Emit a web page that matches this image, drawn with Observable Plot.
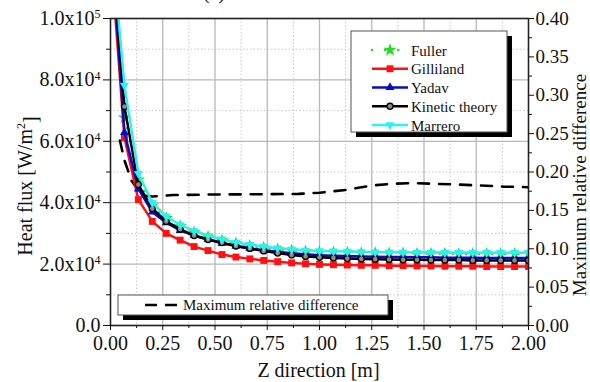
<!DOCTYPE html>
<html>
<head>
<meta charset="utf-8">
<script src="https://cdn.jsdelivr.net/npm/d3@7"></script>
<script src="https://cdn.jsdelivr.net/npm/@observablehq/plot@0.6"></script>
<style>
  html, body { margin: 0; padding: 0; background: #fff; }
  #chart svg { display: block; }
  #chart svg text, #chart svg tspan { font-family: "Liberation Serif", "DejaVu Serif", serif; }
</style>
</head>
<body>
<div id="chart"></div>
<script>
// Axial positions along the channel [m]
const zPos = [0, 0.0667, 0.1333, 0.2, 0.2667, 0.3333, 0.4, 0.4667, 0.5333, 0.6, 0.6667,
  0.7333, 0.8, 0.8667, 0.9333, 1.0, 1.0667, 1.1333, 1.2, 1.2667, 1.3333, 1.4, 1.4667,
  1.5333, 1.6, 1.6667, 1.7333, 1.8, 1.8667, 1.9333, 2.0];

// Heat flux [W/m2] for each diffusion-coefficient model
const fuller = [128000, 67700, 47500, 39000, 35000, 32300, 30300, 28900, 27700, 26700, 25900,
  25300, 24800, 24400, 24100, 23900, 23800, 23700, 23600, 23600, 23500, 23500, 23400,
  23400, 23400, 23300, 23300, 23300, 23300, 23300, 23300];
const gilliland = [121800, 61200, 41000, 33900, 30000, 27800, 25700, 24400, 23100, 22300, 21700,
  21200, 20800, 20400, 20100, 19900, 19800, 19700, 19600, 19600, 19500, 19500, 19400,
  19400, 19300, 19300, 19300, 19200, 19200, 19200, 19200];
const yadav = [128000, 62900, 44500, 37000, 33500, 31000, 29300, 28000, 26800, 25900, 25100,
  24500, 24000, 23500, 23200, 22900, 22700, 22600, 22500, 22400, 22300, 22300, 22200,
  22200, 22100, 22100, 22100, 22000, 22000, 22000, 22000];
const kinetic = [128700, 71300, 45900, 38100, 33900, 31400, 29300, 28000, 27000, 25900, 25100,
  24300, 23600, 23000, 22500, 22200, 22000, 21800, 21700, 21600, 21500, 21400, 21400,
  21300, 21300, 21300, 21200, 21200, 21200, 21200, 21200];
const marrero = [129000, 78200, 49500, 40000, 35500, 32800, 30800, 29300, 28100, 27100, 26300,
  25700, 25200, 24800, 24500, 24300, 24200, 24100, 24000, 23900, 23900, 23800, 23800,
  23800, 23700, 23700, 23700, 23700, 23700, 23700, 23700];

// Maximum relative difference between the models (right axis)
const diffZ = [0.045, 0.067, 0.1, 0.133, 0.167, 0.2, 0.3, 0.5, 0.7, 0.9, 1.0, 1.13, 1.25,
  1.35, 1.45, 1.55, 1.66, 1.77, 1.88, 2.0];
const diffVal = [0.241, 0.215, 0.189, 0.176, 0.169, 0.168, 0.170, 0.1707, 0.171, 0.1715, 0.173,
  0.1768, 0.1824, 0.1846, 0.1855, 0.1846, 0.1837, 0.1824, 0.181, 0.1802];

const seriesNames = ["Fuller", "Gilliland", "Yadav", "Kinetic theory", "Marrero"];
const seriesValues = [fuller, gilliland, yadav, kinetic, marrero];
const diffName = "Maximum relative difference";

// Axis ticks and labels
const xTicks = [0, 0.25, 0.5, 0.75, 1.0, 1.25, 1.5, 1.75, 2.0];
const xTickLabels = ["0.00", "0.25", "0.50", "0.75", "1.00", "1.25", "1.50", "1.75", "2.00"];
const xMinor = [0.125, 0.375, 0.625, 0.875, 1.125, 1.375, 1.625, 1.875];
const yTicks = [0, 20000, 40000, 60000, 80000, 100000];
const yTickMantissa = ["0.0", "2.0x10", "4.0x10", "6.0x10", "8.0x10", "1.0x10"];
const yTickExponent = ["", "4", "4", "4", "4", "5"];
const yMinor = [10000, 30000, 50000, 70000, 90000];
const rTicks = [0, 0.05, 0.10, 0.15, 0.20, 0.25, 0.30, 0.35, 0.40];
const rTickLabels = ["0.00", "0.05", "0.10", "0.15", "0.20", "0.25", "0.30", "0.35", "0.40"];
const rMinor = [0.025, 0.075, 0.125, 0.175, 0.225, 0.275, 0.325, 0.375];

// The right axis shares the frame with the left one: 0.40 sits at 1.0x10^5
const rFactor = 100000 / 0.4;

// Downward-pointing triangle symbol
const triangleDown = {
  draw(context, size) {
    const y = -Math.sqrt(size / (Math.sqrt(3) * 3));
    context.moveTo(0, -y * 2);
    context.lineTo(-Math.sqrt(3) * y, y);
    context.lineTo(Math.sqrt(3) * y, y);
    context.closePath();
  }
};

const styles = {
  "Fuller":         {color: "#22dd22", symbol: d3.symbolStar,     r: 4.2, dash: "0.1,13", cap: "round", dotStroke: "none"},
  "Gilliland":      {color: "#ff1010", symbol: d3.symbolSquare,   r: 3.9, dash: null,     cap: "butt",  dotStroke: "none"},
  "Yadav":          {color: "#0a0acc", symbol: d3.symbolTriangle, r: 3.3, dash: null,     cap: "butt",  dotStroke: "none"},
  "Kinetic theory": {color: "#000000", symbol: d3.symbolCircle,   r: 3.0, dash: null,     cap: "butt",  dotStroke: "#000", dotFill: "#8a8a8a"},
  "Marrero":        {color: "#2ff0f0", symbol: triangleDown,      r: 3.4, dash: null,     cap: "butt",  dotStroke: "none"}
};

const table = seriesNames.flatMap((name, s) =>
  zPos.map((z, i) => ({series: name, z, v: seriesValues[s][i]})));
const diffTable = diffZ.map((z, i) => ({z, v: diffVal[i] * rFactor}));

const seriesMarks = seriesNames.flatMap(name => {
  const st = styles[name];
  const data = table.filter(d => d.series === name);
  return [
    Plot.line(data, {x: "z", y: "v", stroke: st.color, strokeWidth: 2.5,
      strokeDasharray: st.dash, strokeLinecap: st.cap, clip: true}),
    Plot.dot(data, {x: "z", y: "v", symbol: st.symbol, r: st.r,
      fill: st.dotFill || st.color, stroke: st.dotStroke, strokeWidth: 1.3, clip: true})
  ];
});

const serif = "Liberation Serif, DejaVu Serif, serif";

const chart = Plot.plot({
  width: 590,
  height: 382,
  marginLeft: 110,
  marginRight: 62,
  marginTop: 18,
  marginBottom: 57,
  style: {fontFamily: serif, fontSize: "20px", color: "#111", background: "#fff"},
  x: {domain: [0, 2]},
  y: {domain: [0, 100000]},
  marks: [
    Plot.gridX(xMinor, {stroke: "#c8c8c8", strokeOpacity: 1, strokeDasharray: "1.5,2"}),
    Plot.gridY(yMinor, {stroke: "#c8c8c8", strokeOpacity: 1, strokeDasharray: "1.5,2"}),
    Plot.gridX(xTicks, {stroke: "#b8b8b8", strokeOpacity: 1, strokeWidth: 1.3}),
    Plot.gridY(yTicks, {stroke: "#b8b8b8", strokeOpacity: 1, strokeWidth: 1.3}),
    Plot.line(diffTable, {x: "z", y: "v", stroke: "#000", strokeWidth: 2.6,
      strokeDasharray: "11,10", clip: true}),
    ...seriesMarks,
    Plot.frame({stroke: "#222", strokeWidth: 1.5}),
    Plot.axisX(xTicks, {anchor: "bottom", label: null, tickSize: 5, tickPadding: 5,
      tickFormat: (d, i) => xTickLabels[i], fontSize: 20}),
    Plot.axisX(xMinor, {anchor: "bottom", label: null, tickSize: 3, tickFormat: () => ""}),
    Plot.axisY(yTicks, {anchor: "left", label: null, tickSize: 7, tickPadding: 3,
      tickFormat: (d, i) => yTickMantissa[i], fontSize: 20}),
    Plot.axisY(yMinor, {anchor: "left", label: null, tickSize: 4, tickFormat: () => ""}),
    Plot.axisY(rTicks.map(t => t * rFactor), {anchor: "right", label: null, tickSize: 5,
      tickPadding: 2, tickFormat: (d, i) => rTickLabels[i], fontSize: 19}),
    Plot.axisY(rMinor.map(t => t * rFactor), {anchor: "right", label: null, tickSize: 3,
      tickFormat: () => ""})
  ]
});

document.getElementById("chart").appendChild(chart);
const svg = d3.select(chart);

// Powers of ten on the left tick labels
svg.selectAll("g[aria-label='y-axis tick label'] text").each(function () {
  const t = d3.select(this);
  const i = yTickMantissa.indexOf(t.text());
  if (i > 0 && yTickExponent[i]) {
    t.append("tspan").attr("dy", "-0.55em").attr("font-size", 12).text(yTickExponent[i]);
  }
});

const textAt = (parent, anchor, size) => parent.append("text")
  .attr("fill", "#111").attr("text-anchor", anchor).attr("font-size", size);

// Panel tag, mostly above the top edge
textAt(svg, "start", 20).attr("x", 203).attr("y", -1).text("(a)");

// Axis titles
const yTitle = textAt(svg, "middle", 20).attr("transform", "translate(32,186) rotate(-90)");
yTitle.append("tspan").text("Heat flux [W/m");
yTitle.append("tspan").attr("dy", "-0.6em").attr("font-size", 12).text("2");
yTitle.append("tspan").attr("dy", "0.6em").attr("font-size", 20).text("]");

textAt(svg, "middle", 19).attr("transform", "translate(586,185) rotate(-90)").text(diffName);

textAt(svg, "middle", 20).attr("x", 318.5).attr("y", 377).text("Z direction [m]");

// Model legend with drop shadow
const lg = svg.append("g");
lg.append("rect").attr("x", 356).attr("y", 36).attr("width", 156).attr("height", 101).attr("fill", "#000");
lg.append("rect").attr("x", 351).attr("y", 31).attr("width", 156).attr("height", 101)
  .attr("fill", "#fff").attr("stroke", "#555").attr("stroke-width", 1);
seriesNames.forEach((name, i) => {
  const st = styles[name];
  const y = 50 + i * 18.75;
  lg.append("line").attr("x1", 372).attr("x2", 408).attr("y1", y).attr("y2", y)
    .attr("stroke", st.color).attr("stroke-width", 2.5)
    .attr("stroke-dasharray", st.dash).attr("stroke-linecap", st.cap);
  lg.append("path")
    .attr("transform", `translate(390,${y})`)
    .attr("d", d3.symbol(st.symbol, Math.PI * st.r * st.r)())
    .attr("fill", st.dotFill || st.color)
    .attr("stroke", st.dotStroke).attr("stroke-width", 1.3);
  textAt(lg, "start", 15).attr("x", 411).attr("y", y + 5.5).text(name);
});

// Legend for the relative-difference curve
const lg2 = svg.append("g");
lg2.append("rect").attr("x", 123).attr("y", 300).attr("width", 270).attr("height", 20).attr("fill", "#000");
lg2.append("rect").attr("x", 118).attr("y", 295).attr("width", 270).attr("height", 20)
  .attr("fill", "#fff").attr("stroke", "#555").attr("stroke-width", 1);
lg2.append("line").attr("x1", 145).attr("x2", 177).attr("y1", 305).attr("y2", 305)
  .attr("stroke", "#000").attr("stroke-width", 2.6).attr("stroke-dasharray", "12,8");
textAt(lg2, "start", 15).attr("x", 183).attr("y", 310).text(diffName);
</script>
</body>
</html>
